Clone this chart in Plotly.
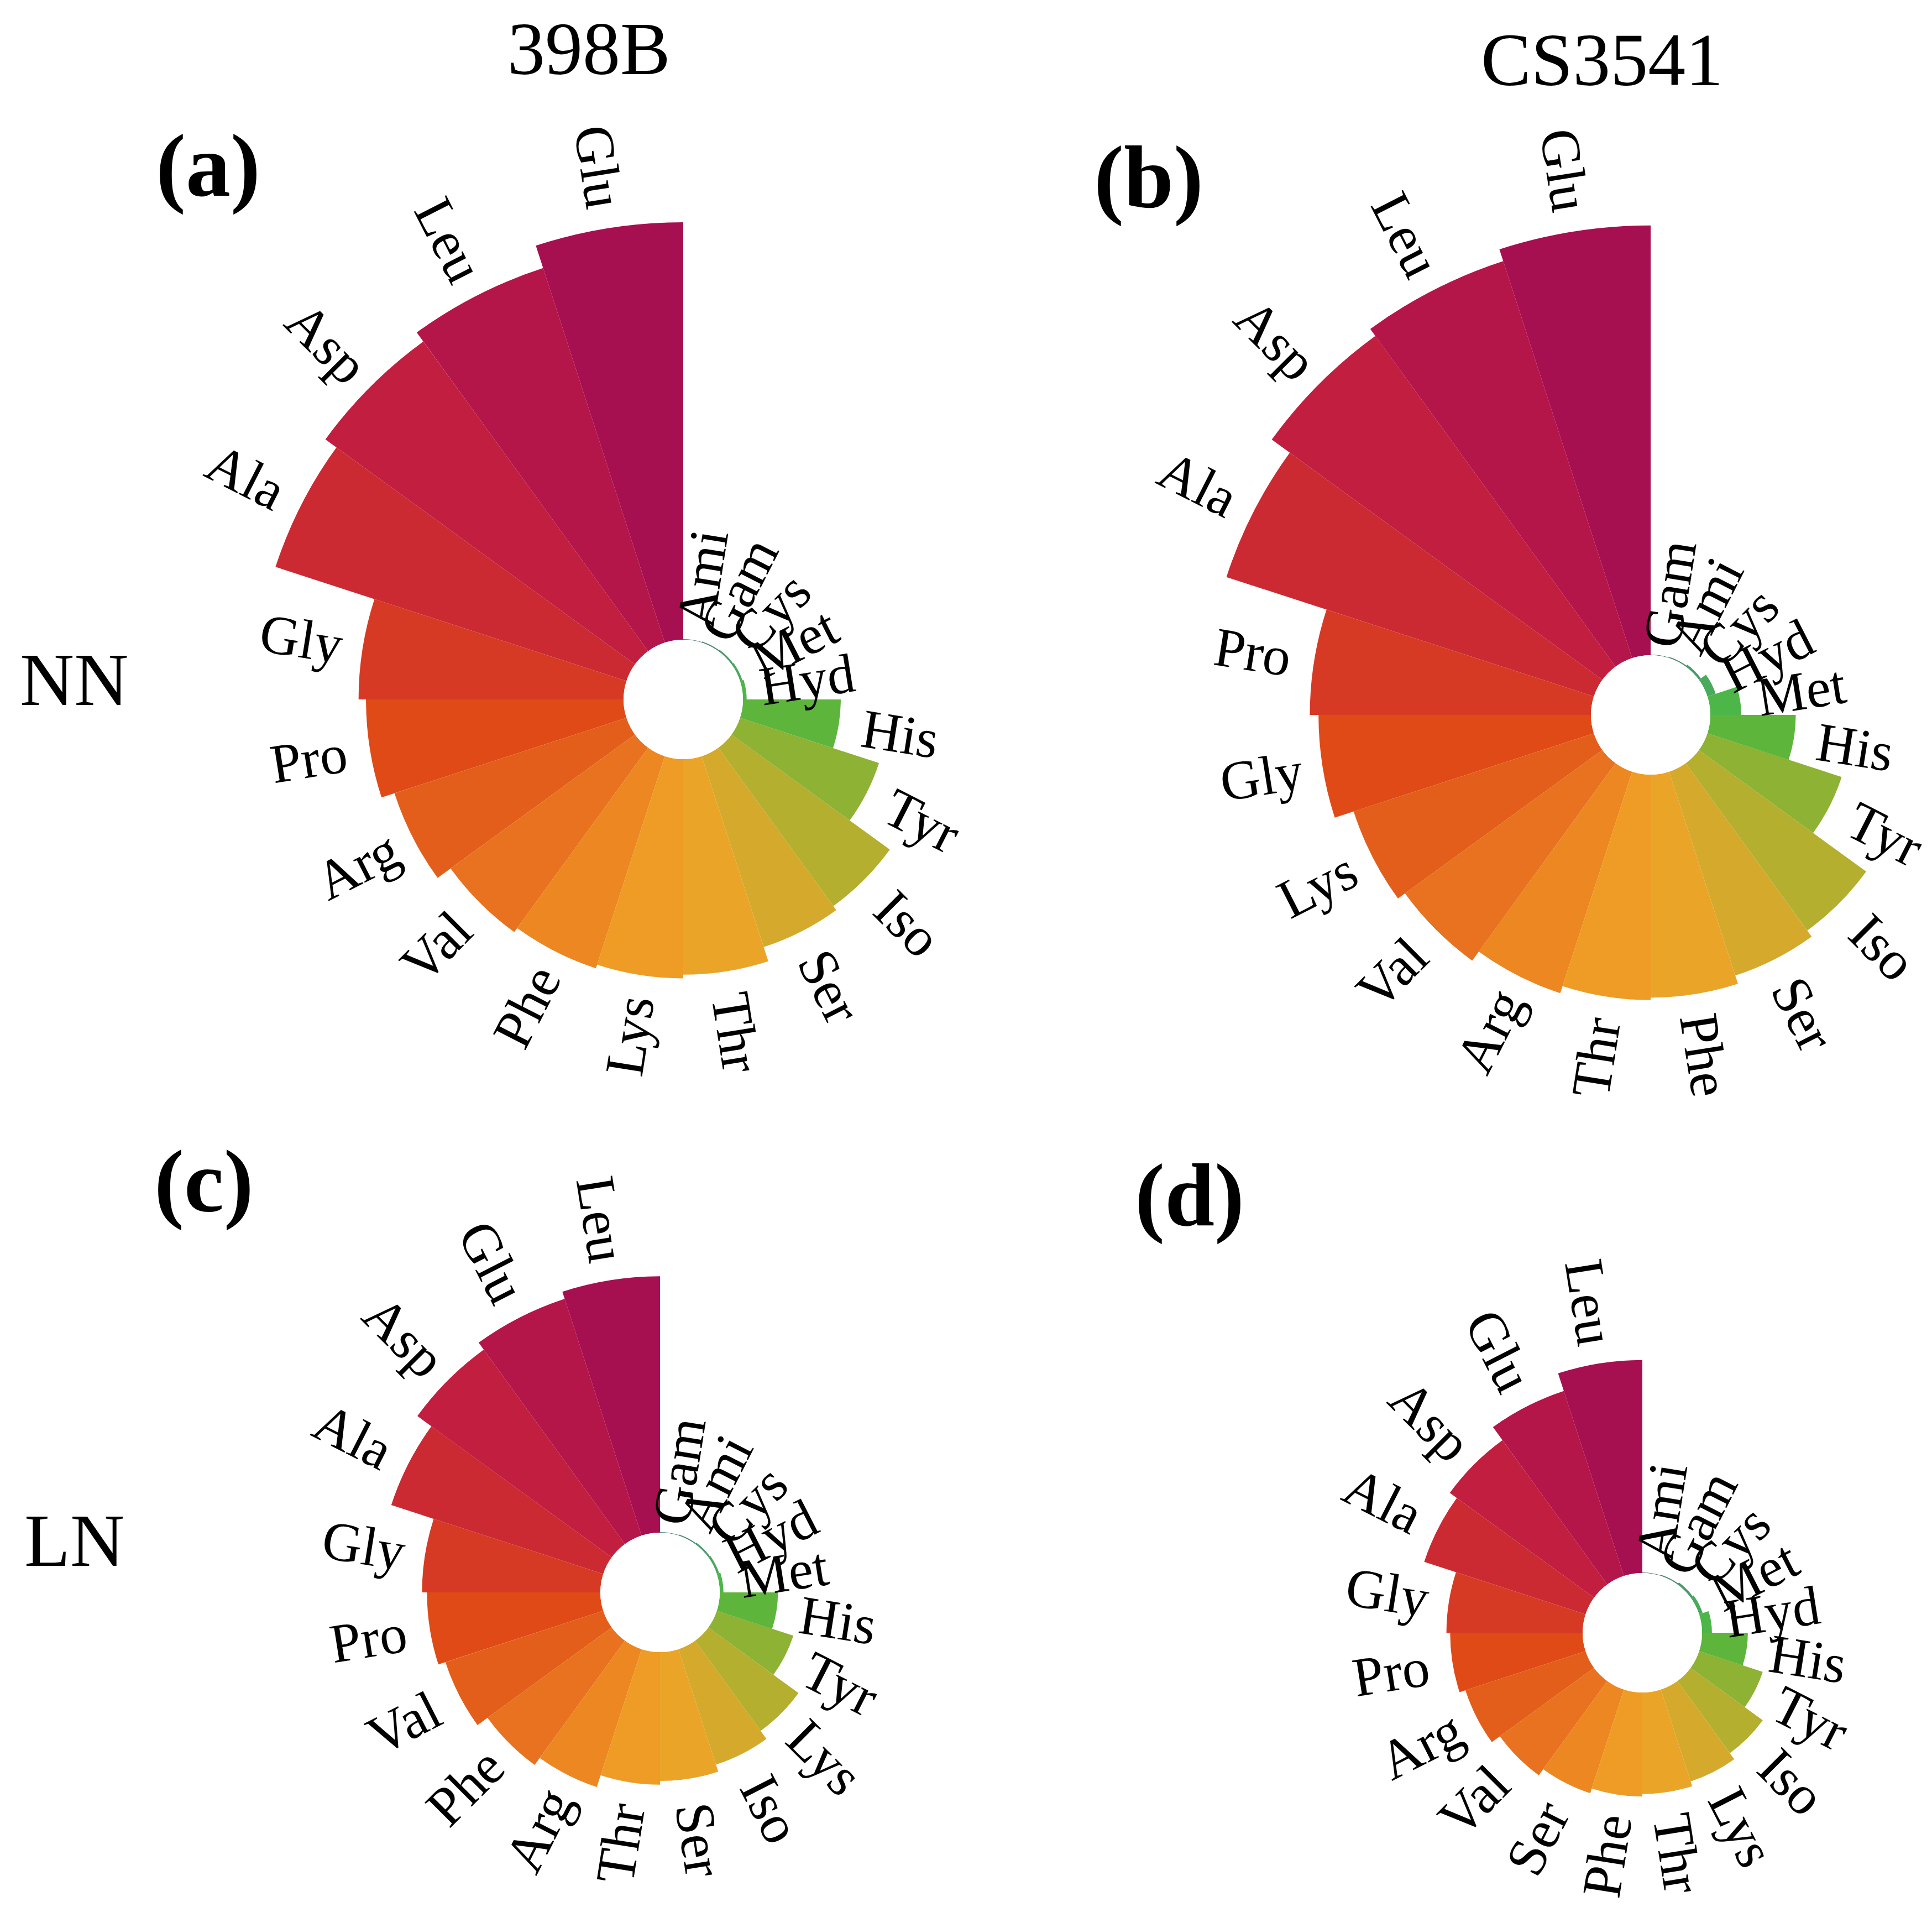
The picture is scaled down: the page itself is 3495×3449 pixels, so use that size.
import math
import plotly.graph_objects as go

# amino acid profiles, bars run counter-clockwise from 12 o'clock
labels_a = ['Glu', 'Leu', 'Asp', 'Ala', 'Gly', 'Pro', 'Arg', 'Val', 'Phe', 'Lys',
            'Thr', 'Ser', 'Iso', 'Tyr', 'His', 'Hyd', 'Met', 'Cys', 'Gam', 'Ami']
values_a = [33.7, 31.8, 30.9, 29.8, 21.4, 20.8, 19.7, 18.4, 18.0, 17.7,
            17.4, 16.2, 15.8, 11.8, 7.9, 0.3, 0.2, 0.15, 0.1, 0.05]

labels_b = ['Glu', 'Leu', 'Asp', 'Ala', 'Pro', 'Gly', 'Lys', 'Val', 'Arg', 'Thr',
            'Phe', 'Ser', 'Iso', 'Tyr', 'His', 'Met', 'Hyd', 'Cys', 'Ami', 'Gam']
values_b = [34.7, 33.7, 33.0, 31.2, 22.7, 22.0, 20.4, 19.7, 18.8, 18.2,
            18.0, 17.3, 16.7, 11.4, 6.9, 2.5, 0.7, 0.2, 0.1, 0.05]

labels_c = ['Leu', 'Glu', 'Asp', 'Ala', 'Gly', 'Pro', 'Val', 'Phe', 'Arg', 'Thr',
            'Ser', 'Iso', 'Lys', 'Tyr', 'His', 'Met', 'Hyd', 'Cys', 'Ami', 'Gam']
values_c = [20.7, 20.1, 19.4, 18.0, 14.4, 14.0, 13.4, 12.4, 11.7, 10.7,
            10.4, 9.8, 9.0, 6.5, 4.7, 0.3, 0.2, 0.15, 0.1, 0.05]

labels_d = ['Leu', 'Glu', 'Asp', 'Ala', 'Gly', 'Pro', 'Arg', 'Val', 'Ser', 'Phe',
            'Thr', 'Lys', 'Iso', 'Tyr', 'His', 'Hyd', 'Met', 'Cys', 'Gam', 'Ami']
values_d = [17.2, 15.7, 14.4, 13.7, 11.0, 10.7, 10.2, 9.4, 8.8, 8.4,
            8.2, 7.8, 7.2, 5.4, 3.7, 0.8, 0.3, 0.2, 0.1, 0.05]

# colour by rank position
colours = ['#A60F50', '#B5164A', '#C21F40', '#CC2A33', '#D73A24', '#E04A16', '#E35E1B',
           '#E8721F', '#EC8722', '#EE9C25', '#EAA529', '#D5AA2C', '#B5AF30', '#8DB234',
           '#5DB53C', '#4CB648', '#48AA5A', '#4A9A6C', '#4C8C76', '#4E7E80']

W, H = 3495, 3449
SCALE = 22.4      # px per unit
HOLE = 108        # px
LABEL_SIZE = 100
FONT = 'Liberation Serif'

panels = [
    (labels_a, values_a, 1228, 1257),
    (labels_b, values_b, 2978, 1285),
    (labels_c, values_c, 1186, 2872),
    (labels_d, values_d, 2963, 2945),
]

fig = go.Figure()
layout = {}
annotations = []
n = 0
for labels, values, cx, cy in panels:
    thetas = [90 + 18 * i + 9 for i in range(len(labels))]
    halves = [(list(range(0, 10)), [90, 270]), (list(range(10, 20)), [-90, 90])]
    for idx, sector in halves:
        n += 1
        key = 'polar' if n == 1 else 'polar%d' % n
        top = max(values[i] for i in idx) * SCALE + HOLE
        if sector[0] == 90:
            R = min(top + 8, cx, cy, H - cy)
            xd = [(cx - R) / W, cx / W]
        else:
            R = min(top + 8, W - cx, cy, H - cy)
            xd = [cx / W, (cx + R) / W]
        yd = [1 - (cy + R) / H, 1 - (cy - R) / H]
        layout[key] = dict(
            domain=dict(x=xd, y=yd), sector=sector, hole=HOLE / R,
            bgcolor='rgba(0,0,0,0)',
            radialaxis=dict(visible=False, range=[0, (R - HOLE) / SCALE]),
            angularaxis=dict(visible=False, rotation=0, direction='counterclockwise'),
        )
        fig.add_trace(go.Barpolar(
            r=[values[i] for i in idx],
            theta=[(thetas[i] + 180) % 360 - 180 for i in idx],
            width=[18] * len(idx),
            marker=dict(color=[colours[i] for i in idx], line=dict(width=0)),
            subplot=key, showlegend=False, hoverinfo='skip',
        ))

    # radial labels
    for i, lab in enumerate(labels):
        th = thetas[i] % 360
        rl = HOLE + values[i] * SCALE + 36 + 0.76 * LABEL_SIZE
        px = cx + rl * math.cos(math.radians(th))
        py = cy - rl * math.sin(math.radians(th))
        ang = 180 - th if 90 < th < 270 else -th
        ang = (ang + 180) % 360 - 180
        annotations.append(dict(
            x=px / W, y=1 - py / H, xref='paper', yref='paper', text=lab,
            textangle=ang, showarrow=False, xanchor='center', yanchor='middle',
            font=dict(family=FONT, size=LABEL_SIZE, color='black')))

titles = [('398B', 1057, 80, 136, False), ('CS3541', 2890, 100, 136, False),
          ('NN', 126, 1221, 136, False), ('LN', 126, 2778, 136, False),
          ('(a)', 368, 291, 162, True), ('(b)', 2070, 312, 162, True),
          ('(c)', 361, 2128, 162, True), ('(d)', 2144, 2153, 162, True)]
for txt, px, py, size, bold in titles:
    annotations.append(dict(
        x=px / W, y=1 - py / H, xref='paper', yref='paper',
        text='<b>%s</b>' % txt if bold else txt, showarrow=False,
        xanchor='center', yanchor='middle',
        font=dict(family=FONT, size=size, color='black')))

fig.update_layout(
    template='none', width=W, height=H,
    margin=dict(l=0, r=0, t=0, b=0),
    paper_bgcolor='white', plot_bgcolor='white',
    annotations=annotations, **layout)

fig.write_html('out.html')
